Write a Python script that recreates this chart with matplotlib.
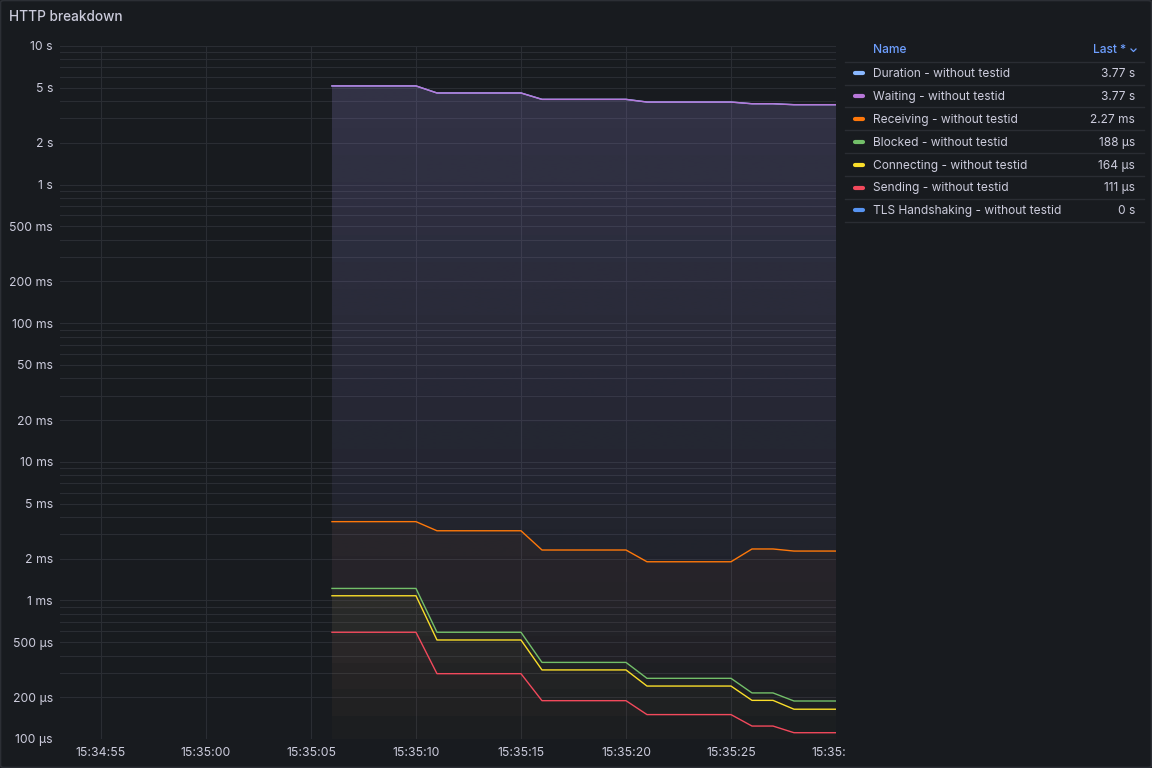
import datetime
import numpy as np
import matplotlib
matplotlib.use('Agg')
import matplotlib.pyplot as plt
import matplotlib.dates as mdates
from matplotlib.transforms import Bbox, TransformedBbox
from matplotlib.patches import FancyBboxPatch
from matplotlib.lines import Line2D

plt.rcParams['font.family'] = ['Inter', 'DejaVu Sans']

# samples, one per second from 15:35:06 to 15:35:30
t0 = datetime.datetime(2024, 1, 1, 15, 35, 6)
times = [t0 + datetime.timedelta(seconds=i) for i in range(25)]

# values in seconds
duration = [5.154]*5 + [4.584]*5 + [4.123]*5 + [3.943]*5 + [3.833]*2 + [3.773]*3
waiting = [5.15]*5 + [4.58]*5 + [4.12]*5 + [3.94]*5 + [3.83]*2 + [3.77]*3
receiving = [3.70e-3]*5 + [3.18e-3]*5 + [2.31e-3]*5 + [1.90e-3]*5 + [2.35e-3]*2 + [2.27e-3]*3
blocked = [1220e-6]*5 + [589e-6]*5 + [357e-6]*5 + [274e-6]*5 + [215e-6]*2 + [188e-6]*3
connecting = [1080e-6]*5 + [518e-6]*5 + [315e-6]*5 + [241e-6]*5 + [190e-6]*2 + [164e-6]*3
sending = [589e-6]*5 + [296e-6]*5 + [189e-6]*5 + [150e-6]*5 + [124e-6]*2 + [111e-6]*3
tls = [0.0]*25

names = ['Duration - without testid', 'Waiting - without testid',
         'Receiving - without testid', 'Blocked - without testid',
         'Connecting - without testid', 'Sending - without testid',
         'TLS Handshaking - without testid']
series = [duration, waiting, receiving, blocked, connecting, sending, tls]
last_labels = ['3.77 s', '3.77 s', '2.27 ms', '188 µs', '164 µs', '111 µs', '0 s']
colors = ['#8ab8ff', '#b877d9', '#ff780a', '#73bf69', '#fade2a', '#f2495c', '#5794f2']

yticks = [10, 5, 2, 1, 0.5, 0.2, 0.1, 0.05, 0.02, 0.01, 0.005, 0.002, 0.001,
          500e-6, 200e-6, 100e-6]
ytick_labels = ['10 s', '5 s', '2 s', '1 s', '500 ms', '200 ms', '100 ms', '50 ms',
                '20 ms', '10 ms', '5 ms', '2 ms', '1 ms', '500 µs', '200 µs', '100 µs']
xticks = [datetime.datetime(2024, 1, 1, 15, 34, 55) + datetime.timedelta(seconds=5*i)
          for i in range(8)]

bg = '#181b1f'
text_col = '#ccccdc'
grid_col = '#2a2d33'

fig = plt.figure(figsize=(11.52, 7.68), dpi=100, facecolor=bg)
ax = fig.add_axes([60/1152, 1-739/768, (836-60)/1152, (739-46)/768])
ax.set_facecolor(bg)
ax.set_yscale('log')

ymin, ymax = 1e-4, 10
xmin = datetime.datetime(2024, 1, 1, 15, 34, 53, 50000)
xmax = datetime.datetime(2024, 1, 1, 15, 35, 30)

tnum = mdates.date2num(times)
for vals, c in zip(series, colors):
    v = np.array(vals, dtype=float)
    if np.all(v <= 0):
        continue
    poly = ax.fill_between(tnum, v, 1e-6, facecolor='none', edgecolor='none')
    grad = np.zeros((512, 1, 4))
    grad[:, 0, :3] = matplotlib.colors.to_rgb(c)
    # keep the lowest alpha above 8-bit rounding so the fill reaches the bottom
    grad[:, 0, 3] = np.linspace(0.11, 0.0085, 512)
    im = ax.imshow(grad, extent=[0, 1, 0, 1], transform=ax.transAxes,
                   aspect='auto', interpolation='bilinear', zorder=1)
    im.set_clip_path(poly.get_paths()[0], transform=ax.transData)
    ax.plot(tnum, v, color=c, lw=1.0, zorder=3)

ax.set_xlim(mdates.date2num(xmin), mdates.date2num(xmax))
ax.set_ylim(ymin, ymax)

ax.set_yticks(yticks)
ax.set_yticklabels(ytick_labels)
ax.yaxis.set_minor_locator(matplotlib.ticker.LogLocator(base=10, subs=np.arange(2, 10)))
ax.yaxis.set_minor_formatter(matplotlib.ticker.NullFormatter())
ax.set_xticks(mdates.date2num(xticks))
ax.xaxis.set_major_formatter(mdates.DateFormatter('%H:%M:%S'))

ax.grid(True, which='both', axis='y', color=grid_col, lw=0.8)
ax.grid(True, which='major', axis='x', color=grid_col, lw=0.8)
ax.set_axisbelow(True)
ax.tick_params(which='both', length=0, colors=text_col, labelsize=8.8, pad=5)
ax.tick_params(axis='x', pad=6)
for s in ax.spines.values():
    s.set_visible(False)

# clip the last time label where the legend starts
clipbox = TransformedBbox(Bbox.from_extents(0, 0, 845/1152, 1), fig.transFigure)
for tk in ax.xaxis.get_major_ticks():
    tk.label1.set_clip_on(True)
    tk.label1.set_clip_box(clipbox)

# title
fig.text(9/1152, 1-17/768, 'HTTP breakdown', color=text_col, fontsize=9.8,
         fontweight='medium', va='center', ha='left')

# legend table
def fy(py):
    return 1 - py/768

def fx(px):
    return px/1152

head_col = '#6e9fff'
fs = 8.6
fig.text(fx(873), fy(50), 'Name', color=head_col, fontsize=fs, fontweight='medium',
         va='center', ha='left')
fig.text(fx(1126), fy(50), 'Last *', color=head_col, fontsize=fs, fontweight='medium',
         va='center', ha='right')
fig.add_artist(Line2D([fx(1131), fx(1133.5), fx(1136)], [fy(49), fy(51.5), fy(49)],
                      color=head_col, lw=0.9))
sep_col = '#2a2d33'
fig.add_artist(Line2D([fx(845), fx(1144)], [fy(61.5), fy(61.5)], color=sep_col, lw=1))
for i, (nm, lv, c) in enumerate(zip(names, last_labels, colors)):
    y = 73 + i*22.9
    fig.add_artist(Line2D([fx(855), fx(863)], [fy(y), fy(y)], color=c, lw=3,
                          solid_capstyle='round'))
    fig.text(fx(873), fy(y + 1), nm, color=text_col, fontsize=fs, va='center', ha='left')
    fig.text(fx(1135), fy(y + 1), lv, color=text_col, fontsize=fs, va='center', ha='right')
    fig.add_artist(Line2D([fx(845), fx(1144)], [fy(y+11.5), fy(y+11.5)],
                          color=sep_col, lw=1))

# panel border
fig.add_artist(FancyBboxPatch((0.5/1152, 0.5/768), 1-1/1152, 1-1/768,
                              boxstyle='round,pad=0,rounding_size=0.003',
                              transform=fig.transFigure, facecolor='none',
                              edgecolor='#2c2f35', lw=1.2))

fig.savefig('out.png', dpi=100, facecolor=bg)
